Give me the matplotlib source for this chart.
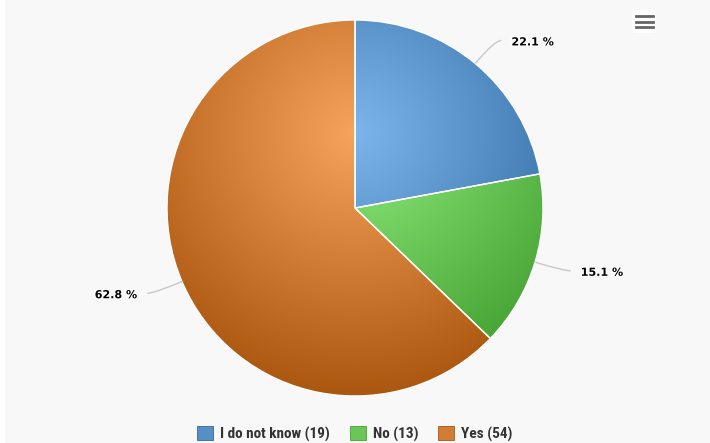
import matplotlib
matplotlib.use("Agg")
import matplotlib.pyplot as plt
import numpy as np
from matplotlib import font_manager
from matplotlib.colors import to_rgb
from matplotlib.patches import Patch, Rectangle, FancyBboxPatch, PathPatch
from matplotlib.path import Path
from matplotlib.lines import Line2D
import matplotlib.patheffects as pe

labels = ["I do not know", "No", "Yes"]
counts = [19, 13, 54]
colors = ["#7cb5ec", "#90ed7d", "#f7a35c"]

W, H = 710, 443
cx, cy, R = 355, 208, 188   # pie centre / radius in pixels


def pick_font(*names):
    for n in names:
        try:
            font_manager.findfont(font_manager.FontProperties(family=n),
                                  fallback_to_default=False)
            return n
        except ValueError:
            pass
    return "DejaVu Sans"


def darker(c, k=1.0):
    return np.clip(np.array(to_rgb(c)) - k * 76 / 255, 0, 1)


legend_font = pick_font("DejaVu Sans Condensed", "Liberation Sans Narrow",
                        "Roboto Condensed", "Roboto")

fig = plt.figure(figsize=(W / 100, H / 100), dpi=100)
fig.patch.set_facecolor("#f8f8f8")
fig.patches.append(Rectangle((0, 0), 5 / W, 1, transform=fig.transFigure,
                             facecolor="white", edgecolor="none", zorder=0))

ax = fig.add_axes([(cx - R) / W, (H - cy - R) / H, 2 * R / W, 2 * R / H])
wedges, _ = ax.pie(counts, startangle=90, counterclock=False, radius=1,
                   wedgeprops=dict(edgecolor="white", linewidth=1))

# radial gradient: light at (0, 0.4), darkest 1.4 units away
n = 500
g = np.linspace(-1, 1, n)
gx, gy = np.meshgrid(g, g[::-1])
t = np.clip(np.hypot(gx, gy - 0.4) / 1.4, 0, 1)[..., None]
for w, c in zip(wedges, colors):
    c0 = np.array(to_rgb(c))
    img = c0 * (1 - t) + darker(c) * t
    w.set_facecolor("none")
    im = ax.imshow(img, extent=(-1, 1, -1, 1), zorder=0.5,
                   interpolation="bilinear")
    im.set_clip_path(w)

ax.set_xlim(-1, 1)
ax.set_ylim(-1, 1)
ax.set_aspect("equal")
ax.axis("off")

# data labels with soft connectors
total = sum(counts)
cum = 0
for c in counts:
    mid = np.deg2rad(90 - (cum + c / 2) / total * 360)
    cum += c
    ca, sa = np.cos(mid), np.sin(mid)
    side = 1 if ca >= 0 else -1
    edge = (ca, sa)
    elbow = ((1 + 30 / R) * ca, (1 + 30 / R) * sa)
    end = (elbow[0] + side * 7 / R, elbow[1])
    path = Path([edge, elbow, end], [Path.MOVETO, Path.CURVE3, Path.CURVE3])
    ax.add_patch(PathPatch(path, facecolor="none", edgecolor="#c8c8c8",
                           lw=1, clip_on=False))
    ax.text(elbow[0] + side * 17 / R, elbow[1] - 2 / R,
            f"{100 * c / total:.1f} %", ha="left" if side > 0 else "right",
            va="center", fontsize=8, fontweight="bold", color="black",
            clip_on=False,
            path_effects=[pe.withStroke(linewidth=1.5, foreground="white")])

# legend
handles = [Patch(facecolor=darker(c, 0.5), edgecolor=darker(c, 1.0),
                 linewidth=0.6) for c in colors]
fig.legend(handles, [f"{l} ({c})" for l, c in zip(labels, counts)],
           loc="center", bbox_to_anchor=(0.5, 9 / H), ncol=3, frameon=False,
           handlelength=1.05, handleheight=1.05, handletextpad=0.45,
           columnspacing=1.3,
           prop=dict(family=[legend_font, "DejaVu Sans"], weight="bold",
                     size=11))
for text in fig.legends[0].get_texts():
    text.set_color("#333333")

# context menu button
fig.patches.append(FancyBboxPatch((632 / W, 1 - 33 / H), 24 / W, 23 / H,
                                  boxstyle="round,pad=0,rounding_size=0.004",
                                  transform=fig.transFigure, facecolor="white",
                                  edgecolor="none", zorder=2))
for yy in (16, 21.5, 27):
    fig.lines.append(Line2D([636 / W, 653 / W], [1 - yy / H, 1 - yy / H],
                            transform=fig.transFigure, color="#666666",
                            lw=2, zorder=3))

fig.savefig("out.png", dpi=100, facecolor=fig.get_facecolor())
